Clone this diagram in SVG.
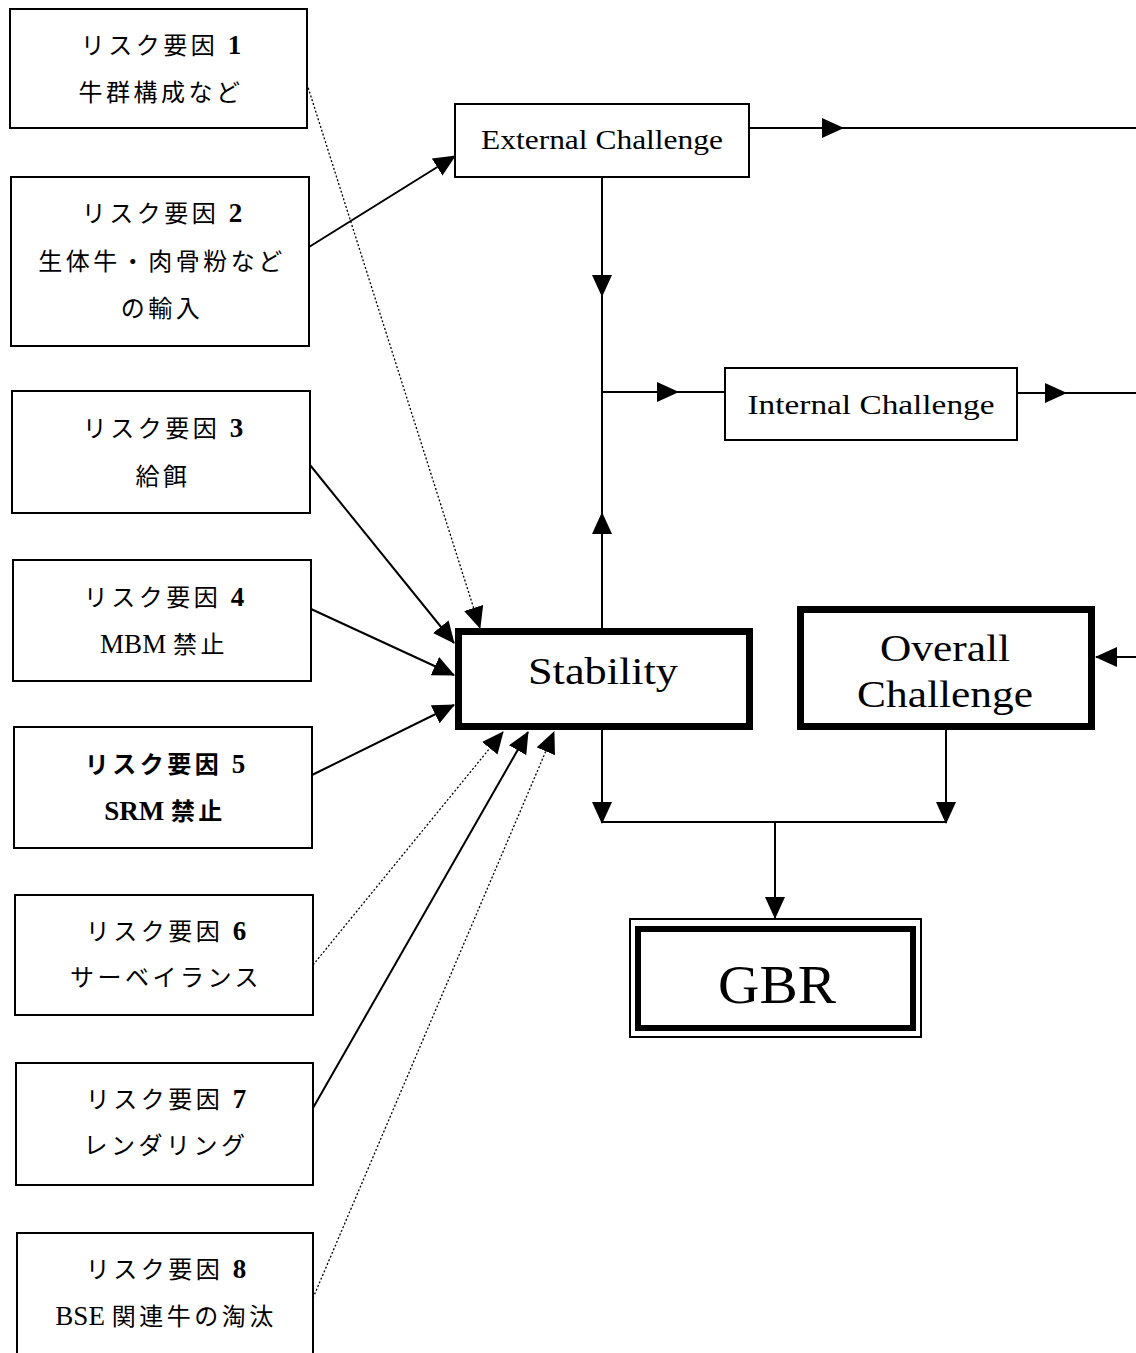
<svg xmlns="http://www.w3.org/2000/svg" width="1136" height="1353" viewBox="0 0 1136 1353">
<style>
.box{fill:#fff;stroke:#000;stroke-width:2}
.thick{fill:#fff;stroke:#000;stroke-width:7}
.jp{font-family:"Liberation Serif","Noto Sans CJK JP",serif;font-size:24px;letter-spacing:3.5px;text-anchor:middle;fill:#000}
.lt{font-size:27px;letter-spacing:0}
.num{font-size:27px;font-weight:bold;letter-spacing:0}
.en{font-family:"Liberation Serif",serif;text-anchor:middle;fill:#000}
.ln{fill:none;stroke:#000;stroke-width:2}
.dot{fill:none;stroke:#000;stroke-width:1.3;stroke-dasharray:2 2}
</style>
<defs>
<marker id="a" markerUnits="userSpaceOnUse" markerWidth="22" markerHeight="20" refX="21" refY="10" orient="auto" viewBox="0 0 22 20">
<path d="M0,0 L22,10 L0,20 z" fill="#000"/>
</marker>
</defs>
<rect width="1136" height="1353" fill="#fff"/>
<g id="connectors">
<line class="dot" x1="307" y1="84" x2="480" y2="628" marker-end="url(#a)"/>
<line class="ln" x1="309" y1="247" x2="455" y2="156" marker-end="url(#a)"/>
<line class="ln" x1="310" y1="465" x2="454" y2="643" marker-end="url(#a)"/>
<line class="ln" x1="311" y1="609" x2="454" y2="675" marker-end="url(#a)"/>
<line class="ln" x1="312" y1="775" x2="454" y2="705" marker-end="url(#a)"/>
<line class="dot" x1="313" y1="965" x2="503" y2="732" marker-end="url(#a)"/>
<line class="ln" x1="313" y1="1108" x2="528" y2="732" marker-end="url(#a)"/>
<line class="dot" x1="313" y1="1298" x2="554" y2="732" marker-end="url(#a)"/>
<line class="ln" x1="749" y1="128" x2="843" y2="128" marker-end="url(#a)"/>
<line class="ln" x1="840" y1="128" x2="1136" y2="128"/>
<line class="ln" x1="602" y1="177" x2="602" y2="296" marker-end="url(#a)"/>
<line class="ln" x1="602" y1="293" x2="602" y2="630"/>
<line class="ln" x1="602" y1="630" x2="602" y2="513" marker-end="url(#a)"/>
<line class="ln" x1="602" y1="392" x2="678" y2="392" marker-end="url(#a)"/>
<line class="ln" x1="675" y1="392" x2="725" y2="392"/>
<line class="ln" x1="1017" y1="393" x2="1066" y2="393" marker-end="url(#a)"/>
<line class="ln" x1="1063" y1="393" x2="1136" y2="393"/>
<line class="ln" x1="1136" y1="657" x2="1096" y2="657" marker-end="url(#a)"/>
<line class="ln" x1="602" y1="728" x2="602" y2="823" marker-end="url(#a)"/>
<line class="ln" x1="946" y1="730" x2="946" y2="823" marker-end="url(#a)"/>
<line class="ln" x1="602" y1="822" x2="946" y2="822"/>
<line class="ln" x1="775" y1="822" x2="775" y2="918" marker-end="url(#a)"/>
</g>
<g id="r1"><rect class="box" x="10" y="9" width="297" height="119"/>
<text class="jp" x="161" y="54">リスク要因 <tspan class="num">1</tspan></text><text class="jp" x="161" y="101">牛群構成など</text></g>
<g id="r2"><rect class="box" x="11" y="177" width="298" height="169"/>
<text class="jp" x="162" y="222">リスク要因 <tspan class="num">2</tspan></text><text class="jp" x="162" y="270">生体牛・肉骨粉など</text><text class="jp" x="162" y="317">の輸入</text></g>
<g id="r3"><rect class="box" x="12" y="391" width="298" height="122"/>
<text class="jp" x="163" y="437">リスク要因 <tspan class="num">3</tspan></text><text class="jp" x="163" y="485">給餌</text></g>
<g id="r4"><rect class="box" x="13" y="560" width="298" height="121"/>
<text class="jp" x="164" y="606">リスク要因 <tspan class="num">4</tspan></text><text class="jp" x="164" y="653"><tspan class="lt">MBM </tspan>禁止</text></g>
<g id="r5"><rect class="box" x="14" y="727" width="298" height="121"/>
<text class="jp" x="165" y="773" font-weight="bold">リスク要因 <tspan class="num">5</tspan></text><text class="jp" x="165" y="820" font-weight="bold"><tspan class="lt">SRM </tspan>禁止</text></g>
<g id="r6"><rect class="box" x="15" y="895" width="298" height="120"/>
<text class="jp" x="166" y="940">リスク要因 <tspan class="num">6</tspan></text><text class="jp" x="166" y="986">サーベイランス</text></g>
<g id="r7"><rect class="box" x="16" y="1063" width="297" height="122"/>
<text class="jp" x="166" y="1108">リスク要因 <tspan class="num">7</tspan></text><text class="jp" x="166" y="1154">レンダリング</text></g>
<g id="r8"><rect class="box" x="17" y="1233" width="296" height="130"/>
<text class="jp" x="166" y="1278">リスク要因 <tspan class="num">8</tspan></text><text class="jp" x="166" y="1325"><tspan class="lt">BSE </tspan>関連牛の淘汰</text></g>
<g id="external"><rect class="box" x="455" y="104" width="294" height="73"/>
<text class="en" x="602" y="149" font-size="27" textLength="242" lengthAdjust="spacingAndGlyphs">External Challenge</text></g>
<g id="internal"><rect class="box" x="725" y="368" width="292" height="72"/>
<text class="en" x="871" y="414" font-size="27" textLength="247" lengthAdjust="spacingAndGlyphs">Internal Challenge</text></g>
<g id="stability"><rect class="thick" x="458.5" y="631.5" width="291" height="95"/>
<text class="en" x="603" y="684" font-size="38" textLength="150" lengthAdjust="spacingAndGlyphs">Stability</text></g>
<g id="overall"><rect class="thick" x="800.5" y="609.5" width="291" height="117"/>
<text class="en" x="945" y="661" font-size="37" textLength="130" lengthAdjust="spacingAndGlyphs">Overall</text><text class="en" x="945" y="707" font-size="37" textLength="176" lengthAdjust="spacingAndGlyphs">Challenge</text></g>
<g id="gbr"><rect x="630" y="919" width="291" height="118" fill="#fff" stroke="#000" stroke-width="2"/>
<rect x="638" y="929" width="275" height="99" fill="none" stroke="#000" stroke-width="6"/>
<text class="en" x="777" y="1003" font-size="54" textLength="118" lengthAdjust="spacingAndGlyphs">GBR</text></g>
</svg>
